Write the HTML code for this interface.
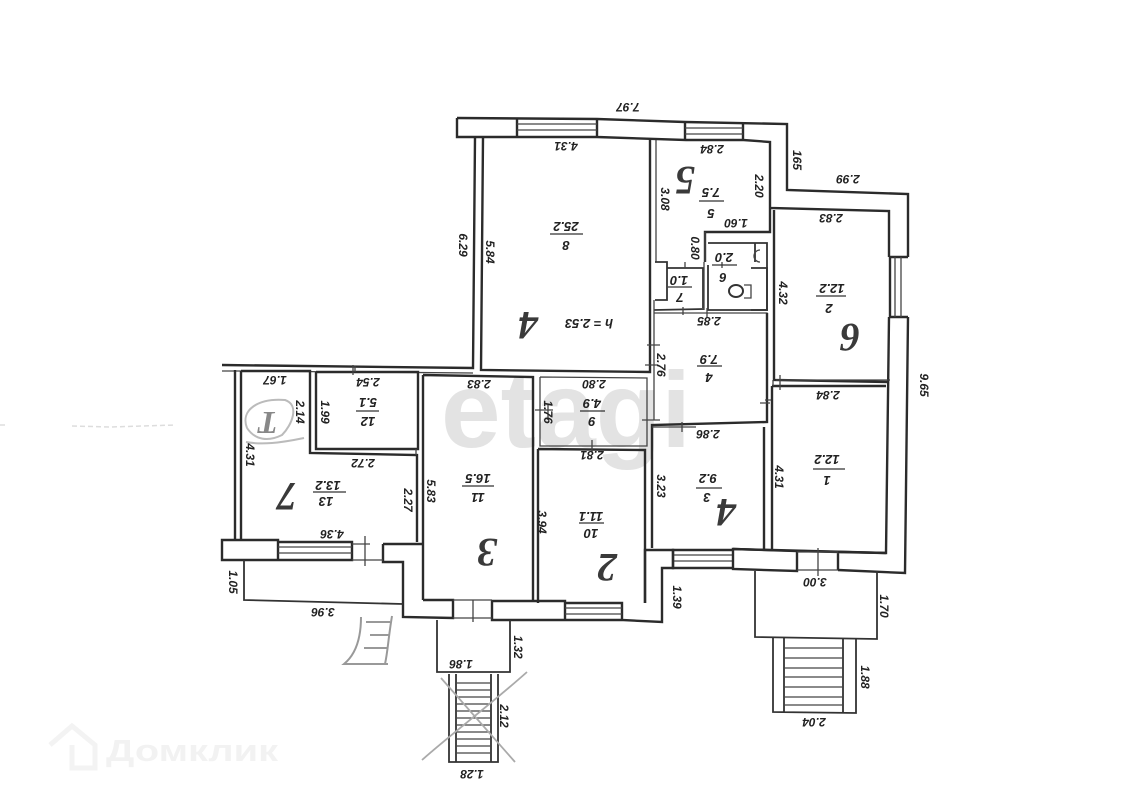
<!DOCTYPE html>
<html><head><meta charset="utf-8"><style>
html,body{margin:0;padding:0;background:#fff}
svg{display:block}
.w{fill:none;stroke:#2b2b2b;stroke-width:2.4;stroke-linejoin:miter}
.t{fill:none;stroke:#333;stroke-width:1.8}
.s{fill:none;stroke:#444;stroke-width:1.3}
text{font-family:"Liberation Sans",sans-serif;font-style:italic;fill:#222;text-anchor:middle}
.d{font-size:12px;font-weight:bold}
.a{font-size:13px;font-weight:bold}
.h{font-family:"Liberation Serif",serif;font-size:40px;font-weight:bold;fill:#3a3a3a}
</style></head><body>
<svg width="1135" height="806" viewBox="0 0 1135 806" xmlns="http://www.w3.org/2000/svg">
<rect width="1135" height="806" fill="#fff"/>
<text x="566" y="447" style="font-size:108px;font-weight:bold;font-style:normal;fill:#e3e3e3" textLength="250" lengthAdjust="spacingAndGlyphs">etagi</text>
<g fill="none" stroke="#f3f3f3" stroke-width="5"><path d="M50 745L72 726L95 745V768H72V745"/></g>
<text x="192" y="761" style="font-size:31px;font-weight:bold;font-style:normal;fill:#f2f2f2" textLength="172" lengthAdjust="spacingAndGlyphs">Домклик</text>
<path d="M0 425H6M72 426L110 427L175 425" stroke="#ddd" stroke-width="1.5" stroke-dasharray="5 3" fill="none"/>

<!-- outer top -->
<path class="w" d="M457 118L597 119L685 122L787 124V190L908 194V257M890 257V317M908 317L905 573L838 570"/>
<path class="w" d="M457 118V137H517V119M517 137H597V119M597 137L685 140V122M685 140H743V123M743 123V140L770 142V232H705V262M770 142V208L889 211V257"/>
<path class="s" d="M517 124H597M517 130H597M685 128H743M685 134H743"/>
<path class="w" d="M890 257H908M890 317H908M889 317L886 553L733 549"/>
<path class="s" d="M895 257V317M901 257V317"/>
<!-- room 8 -->
<path class="w" d="M475 137L473 368L222 365M483 137L481 370L650 372V140"/>
<path class="s" d="M222 371H241L473 373M656 140V262"/>
<!-- service rooms -->
<path class="t" d="M655 262H667V300H655M667 268H703V308M654 310L704 309M708 243H767V310H708V265"/>
<path class="t" d="M751 268H767V310H751M755 243V262"/>
<path class="s" d="M705 232V262M704 262V310M654 313H767V420M654 300V420"/>
<ellipse cx="736" cy="291" rx="7" ry="6" fill="none" stroke="#333" stroke-width="2"/>
<path class="s" d="M744 285H751V298H744M760 250A6 6 0 0 0 760 262"/>
<path class="w" d="M774 210V380L889 382M772 386L886 386M772 386V550M767 313V422L652 425V548M764 427V550"/>
<path class="s" d="M773 380V386M771 400H765"/>
<!-- left section -->
<path class="w" d="M235 370V540M241 371V540M241 371H310V453L417 455V542M316 372H418V449H316V372"/>
<path class="w" d="M423 375L533 377V600M423 375V600M538 449L645 450L645 603M538 449V603"/>
<path class="s" d="M540 377L647 378V446L540 446V377"/>
<!-- bottom walls left -->
<path class="w" d="M222 540H278V560H222ZM278 542H352V560H278M352 542V560M383 544H423M383 544V562H403V617L453 618V600L423 600M453 600V618M492 601H565V620H492ZM565 603H622V620H565M622 602V620L662 622V568H673V550H645V603"/>
<path class="s" d="M278 547H352M278 553H352M565 608H622M565 614H622M673 555H733M673 561H733"/>
<path class="w" d="M673 550H733V568H673ZM733 549L797 551V571L733 569ZM838 552V570M886 553L797 551M838 552L886 553"/>
<path class="s" d="M365 536V566M473 600V622M818 548V576M370 544H352M383 560H352M453 600H492M453 618H492M797 552H838M797 570H838"/>
<!-- tick marks -->
<path class="s" d="M353 365V375M553 410H541M535 410H541M658 365H645M660 345H647M707 308V318M683 307V315M685 268V262M722 262V268M776 380H890M416 449V455M355 366V372M780 375V390M770 403H760M682 422V432M696 427H652M592 440V452M548 405V420M642 420H660"/>
<!-- terraces & stairs -->
<path class="t" d="M244 560V600L403 604"/>
<path class="t" d="M437 620V672H510V620"/>
<path class="t" d="M449 674V762H498V674M456 674V762M491 674V762M449 762H498"/>
<path class="s" d="M456 683H491M456 690H491M456 697H491M456 704H491M456 711H491M456 718H491M456 725H491M456 732H491M456 739H491M456 746H491M456 753H491"/>
<path class="t" d="M755 571V637L877 639V571"/>
<path class="t" d="M773 637V712L856 713V639M784 638V712M843 638V713"/>
<path class="s" d="M784 648H843M784 658H843M784 668H843M784 677H843M784 687H843M784 697H843M784 705H843"/>
<path d="M422 760C450 735 490 705 527 672M441 678L515 762" stroke="#aaa" stroke-width="1.8" fill="none"/>
<path d="M361 617C361 640 355 655 344 664H388M392 616C388 640 388 650 385 664M366 622H390M370 635H390M364 648H388" stroke="#999" stroke-width="2" fill="none"/>
<path d="M247 428C240 410 258 398 285 400C300 405 292 425 282 435C268 442 255 440 247 428M246 442C262 445 280 443 304 438" stroke="#bbb" stroke-width="2" fill="none"/>
<text class="h" transform="rotate(180 268 422)" x="268" y="432" style="font-size:32px;fill:#888">T</text>

<!-- handwritten -->
<g class="hand">
<text class="h" transform="rotate(180 528 326)" x="528" y="326" dy="14">4</text>
<text class="h" transform="rotate(180 685 181)" x="685" y="181" dy="14">5</text>
<text class="h" transform="rotate(180 850 338)" x="850" y="338" dy="14">6</text>
<text class="h" transform="rotate(180 287 497)" x="287" y="497" dy="14">7</text>
<text class="h" transform="rotate(180 487 553)" x="487" y="553" dy="14">3</text>
<text class="h" transform="rotate(180 607 568)" x="607" y="568" dy="14">2</text>
<text class="h" transform="rotate(180 726 513)" x="726" y="513" dy="14">4</text>
</g>

<!-- room fractions -->
<path stroke="#333" stroke-width="1.3" fill="none" d="M550 234H583M699 201H724M712 265H737M668 287H692M697 366H722M816 296H846M356 411H379M313 492H346M462 486H494M580 411H605M579 523H604M696 488H722M813 469H845"/>
<g>
<text class="a" transform="rotate(180 566 226)" x="566" y="230">25.2</text>
<text class="a" transform="rotate(180 566 245)" x="566" y="249">8</text>
<text class="a" transform="rotate(180 711 192)" x="711" y="196">7.5</text>
<text class="a" transform="rotate(180 711 213)" x="711" y="217">5</text>
<text class="a" transform="rotate(180 724 257)" x="724" y="261">2.0</text>
<text class="a" transform="rotate(180 723 277)" x="723" y="281">6</text>
<text class="a" transform="rotate(180 679 280)" x="679" y="284">1.0</text>
<text class="a" transform="rotate(180 680 297)" x="680" y="301">7</text>
<text class="a" transform="rotate(180 709 359)" x="709" y="363">7.9</text>
<text class="a" transform="rotate(180 709 377)" x="709" y="381">4</text>
<text class="a" transform="rotate(180 832 288)" x="832" y="292">12.2</text>
<text class="a" transform="rotate(180 829 308)" x="829" y="312">2</text>
<text class="a" transform="rotate(180 368 402)" x="368" y="406">5.1</text>
<text class="a" transform="rotate(180 368 421)" x="368" y="425">12</text>
<text class="a" transform="rotate(180 328 485)" x="328" y="489">13.2</text>
<text class="a" transform="rotate(180 326 501)" x="326" y="505">13</text>
<text class="a" transform="rotate(180 478 478)" x="478" y="482">16.5</text>
<text class="a" transform="rotate(180 478 497)" x="478" y="501">11</text>
<text class="a" transform="rotate(180 592 403)" x="592" y="407">4.9</text>
<text class="a" transform="rotate(180 592 421)" x="592" y="425">9</text>
<text class="a" transform="rotate(180 591 516)" x="591" y="520">11.1</text>
<text class="a" transform="rotate(180 591 533)" x="591" y="537">10</text>
<text class="a" transform="rotate(180 708 478)" x="708" y="482">9.2</text>
<text class="a" transform="rotate(180 707 497)" x="707" y="501">3</text>
<text class="a" transform="rotate(180 827 459)" x="827" y="463">12.2</text>
<text class="a" transform="rotate(180 827 480)" x="827" y="484">1</text>
<text class="a" transform="rotate(180 589 323)" x="589" y="327">h = 2.53</text>
</g>

<!-- horizontal dims -->
<text class="d" transform="rotate(180 628 107)" x="628" y="111">7.97</text>
<text class="d" transform="rotate(180 566 146)" x="566" y="150">4.31</text>
<text class="d" transform="rotate(180 712 149)" x="712" y="153">2.84</text>
<text class="d" transform="rotate(180 848 179)" x="848" y="183">2.99</text>
<text class="d" transform="rotate(180 831 218)" x="831" y="222">2.83</text>
<text class="d" transform="rotate(180 736 223)" x="736" y="227">1.60</text>
<text class="d" transform="rotate(180 709 321)" x="709" y="325">2.85</text>
<text class="d" transform="rotate(180 275 380)" x="275" y="384">1.67</text>
<text class="d" transform="rotate(180 368 382)" x="368" y="386">2.54</text>
<text class="d" transform="rotate(180 479 384)" x="479" y="388">2.83</text>
<text class="d" transform="rotate(180 594 384)" x="594" y="388">2.80</text>
<text class="d" transform="rotate(180 828 395)" x="828" y="399">2.84</text>
<text class="d" transform="rotate(180 363 463)" x="363" y="467">2.72</text>
<text class="d" transform="rotate(180 592 455)" x="592" y="459">2.81</text>
<text class="d" transform="rotate(180 708 434)" x="708" y="438">2.86</text>
<text class="d" transform="rotate(180 332 534)" x="332" y="538">4.36</text>
<text class="d" transform="rotate(180 323 612)" x="323" y="616">3.96</text>
<text class="d" transform="rotate(180 815 582)" x="815" y="586">3.00</text>
<text class="d" transform="rotate(180 461 664)" x="461" y="668">1.86</text>
<text class="d" transform="rotate(180 472 774)" x="472" y="778">1.28</text>
<text class="d" transform="rotate(180 814 722)" x="814" y="726">2.04</text>

<!-- vertical dims -->
<text class="d" transform="rotate(90 797 160)" x="797" y="164">165</text>
<text class="d" transform="rotate(90 463 245)" x="463" y="249">6.29</text>
<text class="d" transform="rotate(90 490 252)" x="490" y="256">5.84</text>
<text class="d" transform="rotate(90 665 199)" x="665" y="203">3.08</text>
<text class="d" transform="rotate(90 759 186)" x="759" y="190">2.20</text>
<text class="d" transform="rotate(90 695 248)" x="695" y="252">0.80</text>
<text class="d" transform="rotate(90 783 293)" x="783" y="297">4.32</text>
<text class="d" transform="rotate(90 661 365)" x="661" y="369">2.76</text>
<text class="d" transform="rotate(90 924 385)" x="924" y="389">9.65</text>
<text class="d" transform="rotate(90 325 412)" x="325" y="416">1.99</text>
<text class="d" transform="rotate(90 300 412)" x="300" y="416">2.14</text>
<text class="d" transform="rotate(90 548 412)" x="548" y="416">1.76</text>
<text class="d" transform="rotate(90 250 455)" x="250" y="459">4.31</text>
<text class="d" transform="rotate(90 431 491)" x="431" y="495">5.83</text>
<text class="d" transform="rotate(90 542 522)" x="542" y="526">3.94</text>
<text class="d" transform="rotate(90 661 486)" x="661" y="490">3.23</text>
<text class="d" transform="rotate(90 779 477)" x="779" y="481">4.31</text>
<text class="d" transform="rotate(90 408 500)" x="408" y="504">2.27</text>
<text class="d" transform="rotate(90 233 582)" x="233" y="586">1.05</text>
<text class="d" transform="rotate(90 677 597)" x="677" y="601">1.39</text>
<text class="d" transform="rotate(90 884 606)" x="884" y="610">1.70</text>
<text class="d" transform="rotate(90 518 647)" x="518" y="651">1.32</text>
<text class="d" transform="rotate(90 504 716)" x="504" y="720">2.12</text>
<text class="d" transform="rotate(90 865 677)" x="865" y="681">1.88</text>
</svg>
</body></html>
